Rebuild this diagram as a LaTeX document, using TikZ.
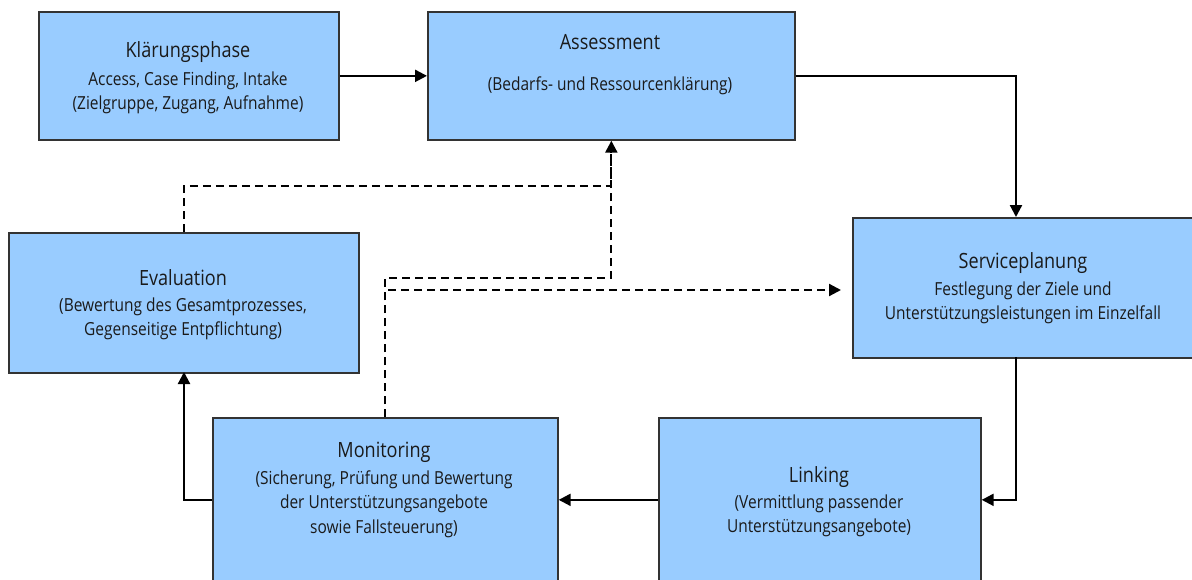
\documentclass[tikz,border=0pt]{standalone}
\usepackage{fontspec}
\setmainfont{Open Sans}[FakeStretch=0.86]
\usetikzlibrary{arrows.meta,calc}
\definecolor{boxfill}{HTML}{99CCFF}
\definecolor{boxline}{HTML}{333333}
\definecolor{txt}{HTML}{1A1A1A}
\tikzset{
  box/.style={draw=boxline,line width=1.7pt,fill=boxfill,inner sep=0pt,anchor=north west},
  ttl/.style={text=txt,font=\fontsize{21}{25}\selectfont,inner sep=0pt},
  sub/.style={text=txt,font=\fontsize{18}{24.5}\selectfont,inner sep=0pt,align=center},
  arr/.style={line width=2.2pt,-{Triangle[length=12pt,width=12pt]}},
  dsh/.style={line width=2.2pt,dash pattern=on 8pt off 5pt},
  darr/.style={dsh,-{Triangle[length=12pt,width=12pt]}}
}
\begin{document}
\begin{tikzpicture}[x=1pt,y=-1pt]
\clip (0,0) rectangle (1192,579);
\useasboundingbox (0,0) rectangle (1192,579);
\fill[white] (0,0) rectangle (1192,579);
% boxes
\node[box,minimum width=300pt,minimum height=128pt] (kl) at (38,11) {};
\node[box,minimum width=367pt,minimum height=128pt] (ass) at (427,11) {};
\node[box,minimum width=346pt,minimum height=140pt] (sp) at (852,217) {};
\node[box,minimum width=350pt,minimum height=140pt] (ev) at (8,232) {};
\node[box,minimum width=345pt,minimum height=164pt] (mo) at (212,417) {};
\node[box,minimum width=322pt,minimum height=164pt] (lk) at (658,417) {};
% texts
\node[ttl] (klT) at (188,52) {Klärungsphase};
\node[sub] (klS) at (188,93) {Access, Case Finding, Intake\\(Zielgruppe, Zugang, Aufnahme)};
\node[ttl] (assT) at (610,42) {Assessment};
\node[sub] (assS) at (610,86) {(Bedarfs- und Ressourcenklärung)};
\node[ttl] (spT) at (1023,263) {Serviceplanung};
\node[sub] (spS) at (1023,303) {Festlegung der Ziele und\\Unterstützungsleistungen im Einzelfall};
\node[ttl] (evT) at (183,278) {Evaluation};
\node[sub] (evS) at (183,319) {(Bewertung des Gesamtprozesses,\\Gegenseitige Entpflichtung)};
\node[ttl] (moT) at (384,452) {Monitoring};
\node[sub] (moS) at (384,504) {(Sicherung, Prüfung und Bewertung\\der Unterstützungsangebote\\sowie Fallsteuerung)};
\node[ttl] (lkT) at (819,477) {Linking};
\node[sub] (lkS) at (819,516) {(Vermittlung passender\\Unterstützungsangebote)};
% coordinates
\coordinate (spIn) at (1016,217);
\coordinate (spOut) at (1016,357);
\coordinate (evIn) at (184,372);
\coordinate (spDash) at (841,290);
% solid connectors
\draw[arr] (kl.east) -- (kl.east -| ass.west);
\draw[arr] (ass.east) -| (spIn);
\draw[arr] (spOut) |- (lk.east);
\draw[arr] (lk.west) -- (mo.west -| mo.east);
\draw[arr] (mo.west) -| (evIn);
% dashed connectors
\draw[dsh] (ev.north) -- (ev.north |- 0,186) -| (ass.south);
\draw[darr] (mo.north) -- (mo.north |- 0,278) -| (ass.south);
\draw[darr] (mo.north) |- (spDash);
\end{tikzpicture}
\end{document}
